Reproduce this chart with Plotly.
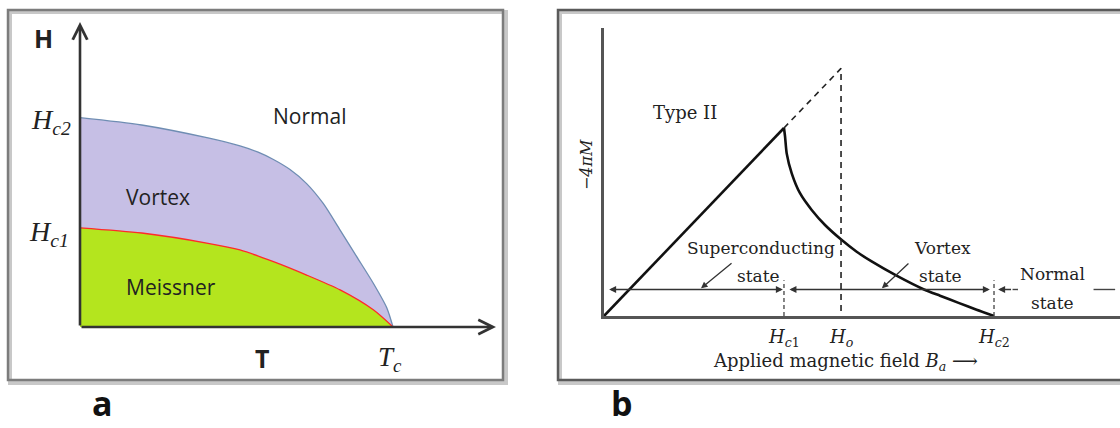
import plotly.graph_objects as go

W, H = 1120, 428

# ---------------- panel a: H-T phase diagram ----------------
t_norm = [0.0, 0.197, 0.409, 0.511, 0.569, 0.618, 0.671, 0.724, 0.777, 0.831, 0.884, 0.937, 0.980, 1.0]
hc2_curve = [1.0, 0.965, 0.903, 0.865, 0.835, 0.800, 0.752, 0.685, 0.590, 0.463, 0.336, 0.209, 0.092, 0.0]
t_norm_low = [0.0, 0.197, 0.409, 0.511, 0.618, 0.724, 0.831, 0.937, 1.0]
hc1_curve = [0.474, 0.449, 0.400, 0.368, 0.312, 0.248, 0.177, 0.082, 0.0]
a_xmax, a_ymax = 1.329, 1.457

# ---------------- panel b: magnetization curve ----------------
field_meissner = [0.0, 1.0]
magn_meissner = [0.0, 1.0]
field_vortex = [1.0, 1.006, 1.015, 1.043, 1.089, 1.154, 1.228, 1.321, 1.404, 1.487,
                1.628, 1.778, 1.867, 1.97, 2.07, 2.167]
magn_vortex = [1.0, 0.954, 0.865, 0.759, 0.653, 0.564, 0.484, 0.404, 0.342, 0.290,
               0.213, 0.141, 0.108, 0.070, 0.033, 0.0]
H_c1, H_o, H_c2 = 1.0, 1.317, 2.167
b_xmax, b_ymax = 2.867, 1.532
state_level = 0.141

SANS = "Open Sans"
SERIF = "DejaVu Serif"
TIMES = "Liberation Serif"

# pixel geometry of the two plotting areas
A_X0, A_X1, A_Y0, A_Y1 = 80, 496, 327, 22
B_X0, B_X1, B_Y0, B_Y1 = 604, 1120, 316, 28


def px_x(p):
    return p / W


def px_y(p):
    return (H - p) / H


def paper_a(x, y):
    return (px_x(A_X0 + x / a_xmax * (A_X1 - A_X0)), px_y(A_Y0 - y / a_ymax * (A_Y0 - A_Y1)))


def paper_b(x, y):
    return (px_x(B_X0 + x / b_xmax * (B_X1 - B_X0)), px_y(B_Y0 - y / b_ymax * (B_Y0 - B_Y1)))


fig = go.Figure()

# vortex region (between Hc2 and Hc1), then the Meissner region on top
fig.add_trace(go.Scatter(x=t_norm, y=hc2_curve, mode="lines",
                         line=dict(color="#6f8db3", width=1.3, shape="spline", smoothing=0.7),
                         fill="tozeroy", fillcolor="#c6bfe5", xaxis="x", yaxis="y", hoverinfo="skip"))
fig.add_trace(go.Scatter(x=t_norm_low, y=hc1_curve, mode="lines",
                         line=dict(color="#ff2a2a", width=1.3, shape="spline", smoothing=0.7),
                         fill="tozeroy", fillcolor="#b4e51e", xaxis="x", yaxis="y", hoverinfo="skip"))

# panel b curves
fig.add_trace(go.Scatter(x=field_meissner, y=magn_meissner, mode="lines", line=dict(color="#111", width=2.6),
                         xaxis="x2", yaxis="y2", hoverinfo="skip"))
fig.add_trace(go.Scatter(x=field_vortex, y=magn_vortex, mode="lines",
                         line=dict(color="#111", width=2.6, shape="spline", smoothing=0.6),
                         xaxis="x2", yaxis="y2", hoverinfo="skip"))
# dashed extension of the Meissner line up to H_o and the vertical at H_o
fig.add_trace(go.Scatter(x=[H_c1, H_o, H_o], y=[H_c1, H_o, 0.0], mode="lines",
                         line=dict(color="#222", width=1.6, dash="6px,5px"),
                         xaxis="x2", yaxis="y2", hoverinfo="skip"))
# short dashed markers at H_c1 and H_c2
for hv in (H_c1, H_c2):
    fig.add_trace(go.Scatter(x=[hv, hv], y=[0.0, 0.19], mode="lines",
                             line=dict(color="#444", width=1.3, dash="4px,3px"),
                             xaxis="x2", yaxis="y2", hoverinfo="skip"))
# state range bars
fig.add_trace(go.Scatter(x=[2.27, 2.30], y=[state_level, state_level], mode="lines",
                         line=dict(color="#444", width=1.4), xaxis="x2", yaxis="y2", hoverinfo="skip"))
fig.add_trace(go.Scatter(x=[2.72, 2.84], y=[state_level, state_level], mode="lines",
                         line=dict(color="#444", width=1.4), xaxis="x2", yaxis="y2", hoverinfo="skip"))

ann = []


def arrow(x, y, ax, ay, xr, yr, color="#333", width=2.6, head=4, size=1.0, side="end"):
    ann.append(dict(x=x, y=y, ax=ax, ay=ay, xref=xr, yref=yr, axref=xr, ayref=yr, text="",
                    showarrow=True, arrowhead=head, arrowsize=size, arrowwidth=width,
                    arrowcolor=color, arrowside=side, startarrowhead=head, startarrowsize=size))


def label(pos, text, size, family, color="#222", xanchor="center", yanchor="middle", angle=0):
    ann.append(dict(x=pos[0], y=pos[1], xref="paper", yref="paper", text=text, showarrow=False,
                    xanchor=xanchor, yanchor=yanchor, textangle=angle,
                    font=dict(size=size, family=family, color=color)))


# panel a axes with arrow heads
arrow(a_xmax, 0, 0, 0, "x", "y", color="#333", width=2.6, head=5, size=1.1)
arrow(0, a_ymax, 0, 0, "x", "y", color="#333", width=2.6, head=5, size=1.1)

label(paper_a(-0.118, 1.381), "<b>H</b>", 25, SANS)
label(paper_a(0.732, 1.008), "Normal", 21, SANS)
label(paper_a(0.249, 0.621), "Vortex", 21, SANS)
label(paper_a(0.291, 0.191), "Meissner", 21, SANS)
label(paper_a(0.581, -0.148), "<b>T</b>", 25, SANS)
label(paper_a(0.99, -0.155), "<i>T</i><sub><i>c</i></sub>", 27, TIMES)
label(paper_a(-0.022, 0.984), "<i>H</i><sub><i>c2</i></sub>", 28, TIMES, xanchor="right")
label(paper_a(-0.028, 0.449), "<i>H</i><sub><i>c1</i></sub>", 28, TIMES, xanchor="right")
label((px_x(102), 0.0), "<b>a</b>", 34, SANS, color="#111", yanchor="bottom")

# panel b labels
label(paper_b(0.45, 1.085), "Type II", 18, SERIF)
label(paper_b(-0.100, 0.803), "<i>−4πM</i>", 16, SERIF, angle=-90)
label(paper_b(0.872, 0.362), "Superconducting", 17, SERIF)
label(paper_b(0.856, 0.215), "state", 17, SERIF)
label(paper_b(1.878, 0.362), "Vortex", 17, SERIF)
label(paper_b(1.867, 0.215), "state", 17, SERIF)
label(paper_b(2.494, 0.223), "Normal", 17, SERIF)
label(paper_b(2.494, 0.071), "state", 17, SERIF)
label(paper_b(H_c1, -0.117), "<i>H</i><sub><i>c</i>1</sub>", 18, SERIF)
label(paper_b(H_o, -0.117), "<i>H</i><sub><i>o</i></sub>", 18, SERIF)
label(paper_b(H_c2, -0.117), "<i>H</i><sub><i>c</i>2</sub>", 18, SERIF)
label(paper_b(1.344, -0.245), "Applied magnetic field <i>B</i><sub><i>a</i></sub> ⟶", 18, SERIF)
label((px_x(622), 0.0), "<b>b</b>", 34, SANS, color="#111", yanchor="bottom")

# state range arrows
arrow(0.994, state_level, 0.02, state_level, "x2", "y2", color="#333", width=1.4, head=2, size=1.0, side="end+start")
arrow(2.144, state_level, 1.022, state_level, "x2", "y2", color="#333", width=1.4, head=2, size=1.0, side="end+start")
arrow(2.19, state_level, 2.27, state_level, "x2", "y2", color="#333", width=1.4, head=2, size=1.0)
# leader arrows from the state names to the bar
arrow(0.539, state_level + 0.006, 0.717, 0.287, "x2", "y2", color="#333", width=1.3, head=2, size=1.0)
arrow(1.544, state_level + 0.006, 1.70, 0.287, "x2", "y2", color="#333", width=1.3, head=2, size=1.0)

shapes = [
    # panel frames with a soft shadow
    dict(type="rect", xref="paper", yref="paper", x0=px_x(10), x1=px_x(506), y0=px_y(383), y1=px_y(12),
         line=dict(color="#c8c8c8", width=4), layer="below"),
    dict(type="rect", xref="paper", yref="paper", x0=px_x(8), x1=px_x(503), y0=px_y(380), y1=px_y(10),
         line=dict(color="#7c7c7c", width=2.5), layer="below"),
    dict(type="rect", xref="paper", yref="paper", x0=px_x(560), x1=px_x(1130), y0=px_y(383), y1=px_y(12),
         line=dict(color="#c8c8c8", width=4), layer="below"),
    dict(type="rect", xref="paper", yref="paper", x0=px_x(558), x1=px_x(1128), y0=px_y(380), y1=px_y(10),
         line=dict(color="#5a5a5a", width=2.5), layer="below"),
]

hidden = dict(visible=False, fixedrange=True)
fig.update_layout(
    width=W, height=H, margin=dict(l=0, r=0, t=0, b=0),
    paper_bgcolor="white", plot_bgcolor="rgba(0,0,0,0)", showlegend=False,
    xaxis=dict(domain=[px_x(A_X0), px_x(A_X1)], range=[0, a_xmax], anchor="y", **hidden),
    yaxis=dict(domain=[px_y(A_Y0), px_y(A_Y1)], range=[0, a_ymax], anchor="x", **hidden),
    xaxis2=dict(domain=[px_x(B_X0), px_x(B_X1)], range=[0, b_xmax], anchor="y2", showline=True, linecolor="#555",
                linewidth=2.6, showgrid=False, zeroline=False, showticklabels=False, ticks="", fixedrange=True),
    yaxis2=dict(domain=[px_y(B_Y0), px_y(B_Y1)], range=[0, b_ymax], anchor="x2", showline=True, linecolor="#555",
                linewidth=2.6, showgrid=False, zeroline=False, showticklabels=False, ticks="", fixedrange=True),
    annotations=ann, shapes=shapes,
)

fig.write_html("out.html", config={"displayModeBar": False})
